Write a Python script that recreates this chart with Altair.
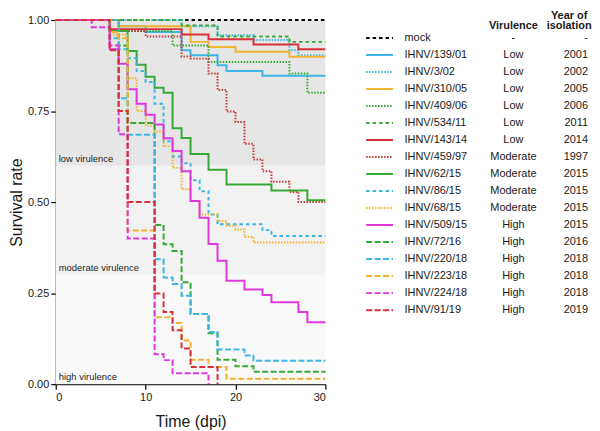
import altair as alt
import pandas as pd

FONT = "Liberation Sans"

# ---- legend table ----
strains = ["mock", "IHNV/139/01", "IHNV/3/02", "IHNV/310/05", "IHNV/409/06", "IHNV/534/11",
           "IHNV/143/14", "IHNV/459/97", "IHNV/62/15", "IHNV/86/15", "IHNV/68/15",
           "IHNV/509/15", "IHNV/72/16", "IHNV/220/18", "IHNV/223/18", "IHNV/224/18", "IHNV/91/19"]
virulence = ["-", "Low", "Low", "Low", "Low", "Low", "Low", "Moderate", "Moderate", "Moderate",
             "Moderate", "High", "High", "High", "High", "High", "High"]
years = ["-", "2001", "2002", "2005", "2006", "2011", "2014", "1997", "2015", "2015", "2015",
         "2015", "2016", "2018", "2018", "2018", "2019"]

# ---- survival step data (day, survival rate) ----
t_mock = [0]; s_mock = [1.0]
t_139_01 = [0, 7, 10, 14, 15, 18, 19, 23]
s_139_01 = [1.0, 0.983, 0.967, 0.917, 0.903, 0.876, 0.86, 0.847]
t_3_02 = [0, 14, 18, 22, 26, 27]
s_3_02 = [1.0, 0.983, 0.958, 0.945, 0.917, 0.903]
t_310_05 = [0, 7, 15, 17, 20, 26]
s_310_05 = [1.0, 0.983, 0.94, 0.926, 0.913, 0.899]
t_409_06 = [0, 7, 13, 17, 26, 28]
s_409_06 = [1.0, 0.97, 0.93, 0.885, 0.853, 0.80]
t_534_11 = [0, 14, 18, 26]
s_534_11 = [1.0, 0.985, 0.955, 0.94]
t_143_14 = [0, 6, 14, 17, 22, 27]
s_143_14 = [1.0, 0.975, 0.96, 0.947, 0.933, 0.92]
t_459_97 = [0, 6, 10, 14, 15, 17, 18, 19, 20, 21, 22, 23, 24, 26, 27]
s_459_97 = [1.0, 0.97, 0.955, 0.90, 0.894, 0.853, 0.808, 0.749, 0.72, 0.66, 0.617, 0.585, 0.556, 0.528, 0.50]
t_62_15 = [0, 6, 8, 9, 10, 11, 12, 13, 14, 15, 17, 19, 24, 28]
s_62_15 = [1.0, 0.97, 0.915, 0.877, 0.844, 0.814, 0.80, 0.703, 0.676, 0.632, 0.589, 0.548, 0.532, 0.505]
t_86_15 = [0, 7, 8, 9, 10, 11, 12, 13, 14, 15, 16, 17, 18, 23, 24]
s_86_15 = [1.0, 0.92, 0.895, 0.86, 0.83, 0.77, 0.667, 0.625, 0.607, 0.56, 0.53, 0.466, 0.439, 0.423, 0.407]
t_68_15 = [0, 6, 8, 9, 10, 11, 12, 13, 14, 15, 16, 18, 19, 20, 21, 22]
s_68_15 = [1.0, 0.96, 0.84, 0.75, 0.71, 0.694, 0.653, 0.594, 0.535, 0.503, 0.466, 0.448, 0.435, 0.425, 0.404, 0.389]
t_509_15 = [0, 6, 7, 8, 9, 10, 11, 12, 13, 14, 15, 16, 17, 18, 19, 21, 23, 24, 27, 28]
s_509_15 = [1.0, 0.92, 0.88, 0.81, 0.77, 0.74, 0.713, 0.675, 0.64, 0.585, 0.503, 0.457, 0.385, 0.339,
            0.284, 0.26, 0.245, 0.225, 0.198, 0.17]
t_72_16 = [0, 6, 7, 8, 11, 12, 13, 14, 15, 17, 18, 20, 22]
s_72_16 = [1.0, 0.97, 0.93, 0.717, 0.437, 0.384, 0.366, 0.28, 0.193, 0.14, 0.067, 0.049, 0.034]
t_220_18 = [0, 6, 7, 8, 11, 12, 13, 14, 15, 17, 18, 21, 22]
s_220_18 = [1.0, 0.95, 0.785, 0.685, 0.343, 0.293, 0.275, 0.243, 0.193, 0.143, 0.095, 0.079, 0.064]
t_223_18 = [0, 6, 7, 8, 11, 13, 14, 15, 17, 19]
s_223_18 = [1.0, 0.967, 0.95, 0.422, 0.184, 0.168, 0.12, 0.067, 0.047, 0.015]
t_224_18 = [0, 4, 6, 7, 8, 11, 12, 13, 17]
s_224_18 = [1.0, 0.98, 0.93, 0.686, 0.40, 0.082, 0.066, 0.030, 0.0]
t_91_19 = [0, 6, 7, 8, 11, 12, 13, 14, 15, 18]
s_91_19 = [1.0, 0.917, 0.75, 0.50, 0.249, 0.198, 0.148, 0.098, 0.047, 0.0]

curves = [(t_mock, s_mock), (t_139_01, s_139_01), (t_3_02, s_3_02), (t_310_05, s_310_05),
          (t_409_06, s_409_06), (t_534_11, s_534_11), (t_143_14, s_143_14), (t_459_97, s_459_97),
          (t_62_15, s_62_15), (t_86_15, s_86_15), (t_68_15, s_68_15), (t_509_15, s_509_15),
          (t_72_16, s_72_16), (t_220_18, s_220_18), (t_223_18, s_223_18), (t_224_18, s_224_18),
          (t_91_19, s_91_19)]
END_DAY = 30

# ---- background bands ----
band_lo = [0.6, 0.3, 0.0]
band_hi = [1.0, 0.6, 0.3]
band_names = ["low virulence", "moderate virulence", "high virulence"]

# ---- styles ----
CYAN, ORANGE, GREEN, RED, DRED, MAG = "#3bb6e6", "#f0b430", "#36a935", "#d8303a", "#c63a3a", "#e037dc"
colors = ["#000000", CYAN, CYAN, ORANGE, GREEN, GREEN, RED, DRED, GREEN, CYAN, ORANGE,
          MAG, GREEN, CYAN, ORANGE, MAG, RED]
SOLID, DOT, SHORT, LONG = [1, 0], [1.5, 1.5], [3.5, 3], [6, 2.5]
dashes = [SHORT, SOLID, DOT, SOLID, DOT, SHORT, SOLID, DOT, SOLID, SHORT, DOT,
          SOLID, LONG, LONG, LONG, LONG, LONG]
band_fills = ["#e6e6e6", "#f2f2f2", "#f9f9f9"]

# ---- build tables ----
rows = []
for k, (name, (ts, ss)) in enumerate(zip(strains, curves)):
    for t, s in zip(ts, ss):
        rows.append({"strain": name, "day": t, "surv": s, "k": k})
    if ss[-1] > 0:
        rows.append({"strain": name, "day": END_DAY, "surv": ss[-1], "k": k})
curve_df = pd.DataFrame(rows)

band_df = pd.DataFrame({"lo": band_lo, "hi": band_hi, "name": band_names, "fill": band_fills})
leg_df = pd.DataFrame({"strain": strains, "vir": virulence, "year": years,
                       "row": list(range(len(strains)))})

W, H = 271, 366
color_scale = alt.Scale(domain=strains, range=colors)
dash_scale = alt.Scale(domain=strains, range=dashes)
yscale = alt.Scale(domain=[0, 1])

bands = alt.Chart(band_df).mark_rect().encode(
    x=alt.datum(0), x2=alt.datum(END_DAY),
    y=alt.Y("lo:Q", scale=yscale), y2="hi:Q",
    fill=alt.Fill("fill:N", scale=None),
)
band_text = alt.Chart(band_df).mark_text(
    align="left", baseline="bottom", dx=3, dy=-2, fontSize=9.5, font=FONT, color="#222222"
).encode(x=alt.datum(0), y=alt.Y("lo:Q", scale=yscale), text="name:N")

lines = alt.Chart(curve_df).mark_line(interpolate="step-after", strokeWidth=2).encode(
    x=alt.X("day:Q", scale=alt.Scale(domain=[0, END_DAY], nice=False),
            axis=alt.Axis(values=[0, 10, 20, 30], title="Time (dpi)", titlePadding=12)),
    y=alt.Y("surv:Q", scale=yscale,
            axis=alt.Axis(values=[0, 0.25, 0.5, 0.75, 1.0], format=".2f",
                          title="Survival rate", titlePadding=3)),
    color=alt.Color("strain:N", scale=color_scale, legend=None),
    strokeDash=alt.StrokeDash("strain:N", scale=dash_scale, legend=None),
    detail="strain:N",
    order=alt.Order("k:Q", sort="descending"),
)

main = alt.layer(bands, band_text, lines)

# legend panel, rows through their own scale
ROW0, ROWSTEP = 18.0, 17.1
a = -ROW0 / ROWSTEP
b = a + H / ROWSTEP
lscale = alt.Scale(domain=[a, b], reverse=True, nice=False, zero=False)
ly = alt.Y("row:Q", scale=lscale, axis=None)

leg_rule = alt.Chart(leg_df).mark_rule(strokeWidth=2).encode(
    x=alt.value(312), x2=alt.value(339), y=ly,
    color=alt.Color("strain:N", scale=color_scale, legend=None),
    strokeDash=alt.StrokeDash("strain:N", scale=dash_scale, legend=None),
)
TXT = dict(fontSize=11, font=FONT, color="#1a1a1a", baseline="middle")
leg_name = alt.Chart(leg_df).mark_text(align="left", **TXT).encode(
    x=alt.value(350.5), y=ly, text="strain:N")
leg_vir = alt.Chart(leg_df).mark_text(align="center", **TXT).encode(
    x=alt.value(460), y=ly, text="vir:N")
leg_year = alt.Chart(leg_df).mark_text(align="right", **TXT).encode(
    x=alt.value(535), y=ly, text="year:N")

hdr_df = pd.DataFrame({"h": ["Virulence", "Year of", "isolation"]})
HTXT = dict(fontSize=11, font=FONT, color="#1a1a1a", baseline="middle", fontWeight="bold",
            align="center")
hdr1 = alt.Chart(hdr_df).transform_filter(alt.datum.h == "Virulence").mark_text(**HTXT).encode(
    x=alt.value(460), y=alt.value(6.5), text="h:N")
hdr2 = alt.Chart(hdr_df).transform_filter(alt.datum.h == "Year of").mark_text(**HTXT).encode(
    x=alt.value(516), y=alt.value(-4.5), text="h:N")
hdr3 = alt.Chart(hdr_df).transform_filter(alt.datum.h == "isolation").mark_text(**HTXT).encode(
    x=alt.value(516), y=alt.value(6.5), text="h:N")

legend = alt.layer(leg_rule, leg_name, leg_vir, leg_year, hdr1, hdr2, hdr3)

chart = alt.layer(main, legend).resolve_scale(y="independent").properties(
    width=W, height=H,
    padding={"left": 0, "top": 0, "right": 0, "bottom": 0},
).configure_view(stroke=None).configure_axis(
    grid=False, domainColor="#000000", tickColor="#000000", domainWidth=1.2, tickWidth=1.2,
    tickSize=5, labelPadding=2, labelFont=FONT, labelFontSize=11, labelColor="#1a1a1a",
    titleFont=FONT, titleFontSize=16, titleFontWeight="normal", titleColor="#1a1a1a",
).configure_text(font=FONT)

chart.save("out.html", embed_options={"renderer": "svg", "actions": False})
